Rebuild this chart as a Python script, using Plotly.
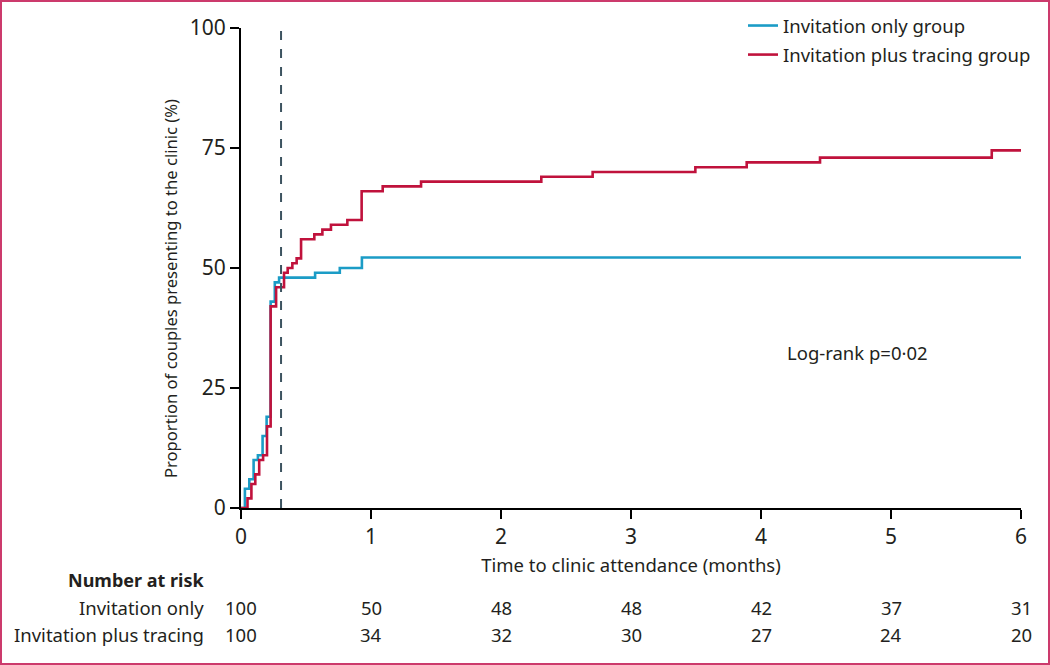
import plotly.graph_objects as go

# ---- data ----
blue_t = [0, 0.03, 0.064, 0.097, 0.13, 0.166, 0.197, 0.228, 0.26, 0.293, 0.57, 0.76, 0.93, 6.0]
blue_y = [0, 4, 6, 10, 11, 15, 19, 43, 47, 48, 49, 50, 52.2, 52.2]

red_t = [0, 0.05, 0.08, 0.11, 0.14, 0.17, 0.2, 0.228, 0.27, 0.331, 0.359, 0.395, 0.428, 0.462,
         0.564, 0.626, 0.692, 0.818, 0.928, 1.09, 1.385, 2.31, 2.705, 3.495, 3.89, 4.454, 5.775, 6.0]
red_y = [0, 2, 5, 7, 10, 11, 17, 42, 46, 49, 50, 51, 52, 56,
         57, 58, 59, 60, 66, 67, 68, 69, 70, 71, 72, 73, 74.5, 74.5]

ref_time = 0.308  # dashed vertical reference line (months)

x_ticks = [0, 1, 2, 3, 4, 5, 6]
y_ticks = [0, 25, 50, 75, 100]

risk_only = [100, 50, 48, 48, 42, 37, 31]
risk_tracing = [100, 34, 32, 30, 27, 24, 20]

series_names = ["Invitation only group", "Invitation plus tracing group"]
risk_labels = ["Invitation only", "Invitation plus tracing"]
y_title = "Proportion of couples presenting to the clinic (%)"

BLUE = "#1b9cc6"
RED = "#c0123c"
TXT = "#231f20"
FONT = "Noto Sans"
FS = 18.5

W, H = 1050, 665
L, R, T, B = 241, 29, 28, 157
plot_h = H - T - B
plot_w = W - L - R


def py(pix):
    return (H - B - pix) / plot_h


def px(pix):
    return (pix - L) / plot_w


fig = go.Figure()
fig.add_trace(go.Scatter(x=blue_t, y=blue_y, mode="lines", line=dict(color=BLUE, width=2.6, shape="hv"),
                         name=series_names[0], legendgroup="a"))
fig.add_trace(go.Scatter(x=red_t, y=red_y, mode="lines", line=dict(color=RED, width=2.6, shape="hv"),
                         name=series_names[1], legendgroup="b"))

fig.add_shape(type="line", xref="x", yref="paper", x0=ref_time, x1=ref_time, y0=0, y1=1,
              line=dict(color="#3d5360", width=2, dash="dash"))

annotations = []
annotations.append(dict(x=4.74, y=32.5, xref="x", yref="y", text="Log-rank p=0·02", showarrow=False,
                        font=dict(family=FONT, size=FS, color=TXT)))
annotations.append(dict(x=px(170), y=py(289), xref="paper", yref="paper", text=y_title, textangle=-90,
                        showarrow=False, xanchor="center", yanchor="middle",
                        font=dict(family=FONT, size=16.6, color=TXT)))
annotations.append(dict(x=px(206), y=py(580), xref="paper", yref="paper", text="<b>Number at risk</b>",
                        showarrow=False, xanchor="right", yanchor="middle",
                        font=dict(family=FONT, size=FS - 0.5, color=TXT)))
for lab, ypix in zip(risk_labels, [607, 634]):
    annotations.append(dict(x=px(206), y=py(ypix), xref="paper", yref="paper", text=lab,
                            showarrow=False, xanchor="right", yanchor="middle",
                            font=dict(family=FONT, size=FS, color=TXT)))
for vals, ypix in zip([risk_only, risk_tracing], [607, 634]):
    for t, v in zip(x_ticks, vals):
        annotations.append(dict(x=t, y=py(ypix), xref="x", yref="paper", text=str(v), showarrow=False,
                                xanchor="center", yanchor="middle",
                                font=dict(family=FONT, size=FS, color=TXT)))

# figure border
fig.add_shape(type="rect", xref="paper", yref="paper", x0=px(1), x1=px(W - 1), y0=py(H - 1), y1=py(1),
              line=dict(color="#cc3a6c", width=2), layer="below")

fig.update_layout(
    width=W, height=H,
    margin=dict(l=L, r=R, t=T, b=B, autoexpand=False),
    paper_bgcolor="white", plot_bgcolor="white",
    font=dict(family=FONT, size=FS, color=TXT),
    showlegend=True,
    legend=dict(x=px(1036), y=py(7), xanchor="right", yanchor="top", bgcolor="rgba(0,0,0,0)",
                font=dict(family=FONT, size=FS, color=TXT), itemwidth=30, tracegroupgap=2),
    annotations=annotations,
    xaxis=dict(range=[0, 6], tickvals=x_ticks, showline=True, linecolor="black", linewidth=2,
               ticks="outside", ticklen=9, tickwidth=2, tickcolor="black", showgrid=False, zeroline=False,
               tickfont=dict(family=FONT, size=21, color=TXT),
               title=dict(text="Time to clinic attendance (months)", standoff=10,
                          font=dict(family=FONT, size=FS, color=TXT))),
    yaxis=dict(range=[0, 100], tickvals=y_ticks, showline=True, linecolor="black", linewidth=2,
               ticks="outside", ticklen=9, tickwidth=2, tickcolor="black", showgrid=False, zeroline=False,
               tickfont=dict(family=FONT, size=21, color=TXT)),
)

fig.write_html("out.html", config={"displayModeBar": False},
               post_script="document.body.style.margin='0';document.body.style.overflow='hidden';")
